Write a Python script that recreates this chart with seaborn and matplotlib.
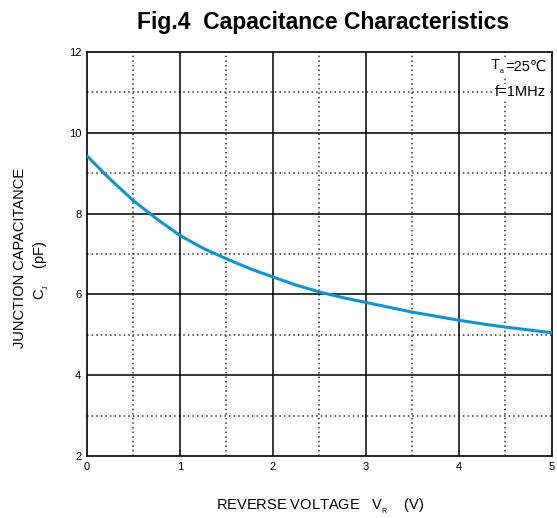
import matplotlib
matplotlib.use("Agg")
import matplotlib.pyplot as plt
import seaborn as sns
import pandas as pd

voltage = [0, 0.25, 0.5, 0.75, 1.0, 1.25, 1.5, 1.75, 2.0, 2.25, 2.5, 2.75, 3.0,
           3.25, 3.5, 3.75, 4.0, 4.25, 4.5, 4.75, 5.0]
capacitance = [9.43, 8.85, 8.32, 7.87, 7.46, 7.14, 6.88, 6.64, 6.43, 6.23, 6.06, 5.92, 5.80,
               5.68, 5.56, 5.46, 5.36, 5.27, 5.19, 5.12, 5.05]
x_ticks = [0, 1, 2, 3, 4, 5]
y_ticks = [2, 4, 6, 8, 10, 12]

sns.set_style("white")
plt.rcParams['font.family'] = ['Liberation Sans', 'DejaVu Sans']
plt.rcParams['text.color'] = 'black'
plt.rcParams['xtick.color'] = 'black'
plt.rcParams['ytick.color'] = 'black'
plt.rcParams['xtick.labelcolor'] = 'black'
plt.rcParams['ytick.labelcolor'] = 'black'

df = pd.DataFrame({"V": voltage, "C": capacitance})

fig = plt.figure(figsize=(5.57, 5.18), dpi=100)
ax = fig.add_axes([0.156, 0.1197, 0.835, 0.78])

# grid
for v in [0.5, 1.5, 2.5, 3.5, 4.5]:
    ax.axvline(v, color='#333333', lw=1.1, ls=(0, (1, 2)), zorder=1)
for c in [3, 5, 7, 9, 11]:
    ax.axhline(c, color='#333333', lw=1.1, ls=(0, (1, 2)), zorder=1)
for v in x_ticks[1:-1]:
    ax.axvline(v, color='black', lw=1.1, zorder=1)
for c in y_ticks[1:-1]:
    ax.axhline(c, color='black', lw=1.1, zorder=1)

sns.lineplot(data=df, x="V", y="C", ax=ax, color='#0a96d6', lw=2.2, zorder=3)

ax.set_xlim(0, 5)
ax.set_ylim(2, 12)
ax.set_xticks(x_ticks)
ax.set_yticks(y_ticks)
ax.set_xticklabels([str(t) for t in x_ticks], fontsize=8, color='black')
ax.set_yticklabels([str(t) for t in y_ticks], fontsize=8, color='black')
ax.tick_params(length=0, pad=4)
for s in ax.spines.values():
    s.set_color('black')
    s.set_linewidth(1.2)
ax.set_xlabel('')
ax.set_ylabel('')

fig.text(0.58, 0.957, 'Fig.4  Capacitance Characteristics', ha='center', va='center',
         fontsize=16.5, fontweight='bold', color='black')
fig.text(0.575, 0.023, r'REVERSE VOLTAGE   V$_\mathregular{_R}$    (V)', ha='center', va='center',
         fontsize=10.5, color='black')
fig.text(0.036, 0.502, 'JUNCTION CAPACITANCE', rotation=90, ha='center', va='center',
         fontsize=10.5, color='black')
fig.text(0.075, 0.478, r'C$_\mathregular{_J}$    (pF)', rotation=90, ha='center', va='center',
         fontsize=10.5, color='black')

t1 = ax.text(4.94, 11.62, '=25℃', ha='right', va='center', fontsize=10.5, color='black',
             family=['Liberation Sans', 'DejaVu Sans'],
             bbox=dict(facecolor='white', edgecolor='none', pad=1), zorder=4)
ax.annotate(r'T$_\mathregular{_a}$', xy=(0, 0.5), xycoords=t1, ha='right', va='center',
            fontsize=10.5, zorder=4, color='black',
            bbox=dict(facecolor='white', edgecolor='none', pad=1))
ax.text(4.94, 11.0, 'f=1MHz', ha='right', va='center', fontsize=10.5, color='black',
        bbox=dict(facecolor='white', edgecolor='none', pad=1), zorder=4)

fig.savefig('out.png', dpi=100)
